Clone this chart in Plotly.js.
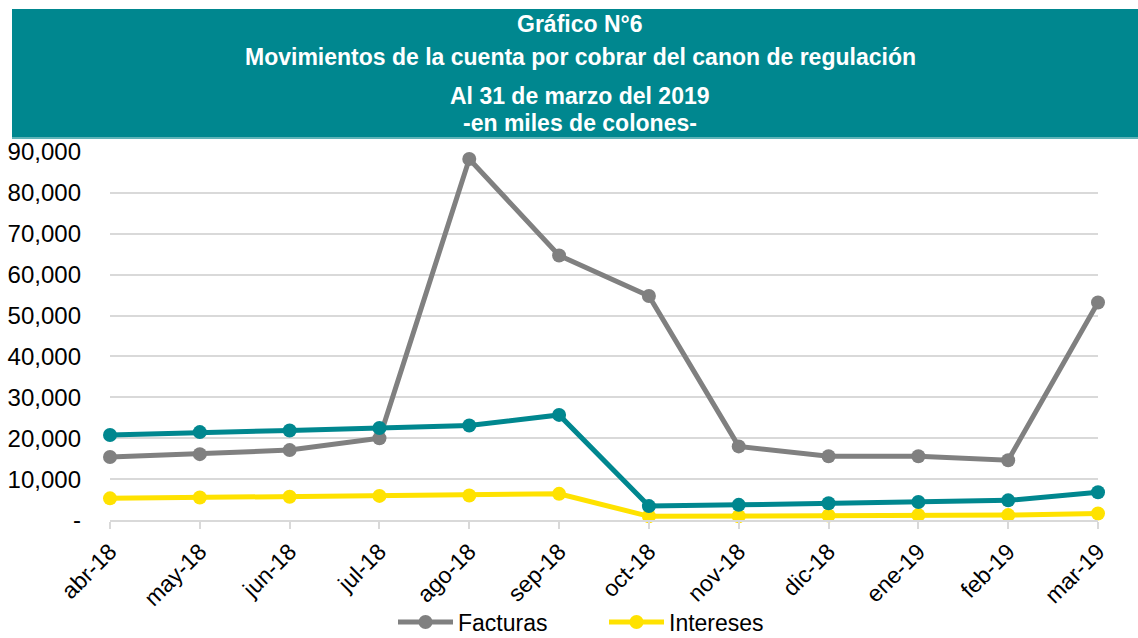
<!DOCTYPE html>
<html>
<head>
<meta charset="utf-8">
<script src="https://cdn.plot.ly/plotly-3.0.1.min.js"></script>
<style>html,body{margin:0;padding:0;background:#fff;}#chart{width:1138px;height:638px;}</style>
</head>
<body>
<div id="chart"></div>
<script>
// ---- data ----
const months = ["abr-18","may-18","jun-18","jul-18","ago-18","sep-18","oct-18","nov-18","dic-18","ene-19","feb-19","mar-19"];
const facturas = [15400,16100,17100,20000,88300,64700,54800,18000,15600,15600,14600,53200];
const saldo    = [20800,21500,21900,22500,23100,25700,3400,3700,4100,4400,4800,6800];
const intereses= [5300,5500,5700,5900,6000,6400,900,900,1100,1200,1200,1600];
const yTickVals = [0,10000,20000,30000,40000,50000,60000,70000,80000,90000];
const yTickText = ["-","10,000","20,000","30,000","40,000","50,000","60,000","70,000","80,000","90,000"];
const titleLines = ["Gráfico N°6","Movimientos de la cuenta por cobrar del canon de regulación","Al 31 de marzo del 2019","-en miles de colones-"];

// ---- layout geometry ----
const W = 1138, H = 638;
const M = {l:110, r:40, t:152, b:118};
const pw = W - M.l - M.r, ph = H - M.t - M.b;
const px = x => (x - M.l) / pw;
const py = y => (H - M.b - y) / ph;

const FONT = "Liberation Sans, Arial, sans-serif";
const TEAL = "#00878F", GRAY = "#808080", YEL = "#FFE200";

function trace(name, y, color, show) {
  return {x: months, y: y, name: name, type: "scatter", mode: "lines+markers",
    line: {color: color, width: 5}, marker: {color: color, size: 14},
    showlegend: show, cliponaxis: false, hoverinfo: "x+y"};
}

const data = [
  trace("Facturas", facturas, GRAY, true),
  trace("Intereses", intereses, YEL, true),
  trace("Saldo", saldo, TEAL, false)
];

const titleY = [24, 57, 96, 123];
const annotations = titleLines.map((t, i) => ({
  text: "<b>" + t + "</b>", xref: "paper", yref: "paper",
  x: px(580), y: py(titleY[i]), xanchor: "center", yanchor: "middle",
  showarrow: false, font: {family: FONT, size: 23, color: "#ffffff"}
}));

const layout = {
  width: W, height: H,
  margin: M,
  paper_bgcolor: "#ffffff", plot_bgcolor: "#ffffff",
  font: {family: FONT, color: "#000000"},
  showlegend: true,
  legend: {orientation: "h", xref: "container", yref: "container",
    x: 393 / W, xanchor: "left", y: (H - 622) / H, yanchor: "middle",
    font: {family: FONT, size: 23, color: "#000"}, traceorder: "normal", itemwidth: 55,
    entrywidth: 141, entrywidthmode: "pixels", bgcolor: "rgba(0,0,0,0)"},
  xaxis: {type: "category", range: [0, 11], showgrid: false, zeroline: false, automargin: false,
    showline: true, linecolor: "#D9D9D9", linewidth: 2,
    ticks: "outside", ticklen: 7, tickcolor: "#D9D9D9", tickwidth: 2,
    tickangle: -45, tickfont: {family: FONT, size: 23, color: "#000"}, fixedrange: true},
  yaxis: {range: [0, 90000], tickvals: yTickVals, ticktext: yTickText, automargin: false,
    showgrid: true, gridcolor: "#D9D9D9", gridwidth: 2, zeroline: false, showline: false,
    ticks: "", ticklabelstandoff: 28,
    tickfont: {family: FONT, size: 24, color: "#000"}, fixedrange: true},
  shapes: [{type: "rect", xref: "paper", yref: "paper",
    x0: px(12), x1: px(1140), y0: py(138), y1: py(9),
    fillcolor: TEAL, line: {width: 0}, layer: "below"},
    {type: "line", xref: "paper", yref: "paper",
    x0: px(12), x1: px(1140), y0: py(138), y1: py(138),
    line: {color: "#5FB3B8", width: 2}}],
  annotations: annotations
};

Plotly.newPlot("chart", data, layout, {displayModeBar: false, staticPlot: true});
</script>
</body>
</html>
